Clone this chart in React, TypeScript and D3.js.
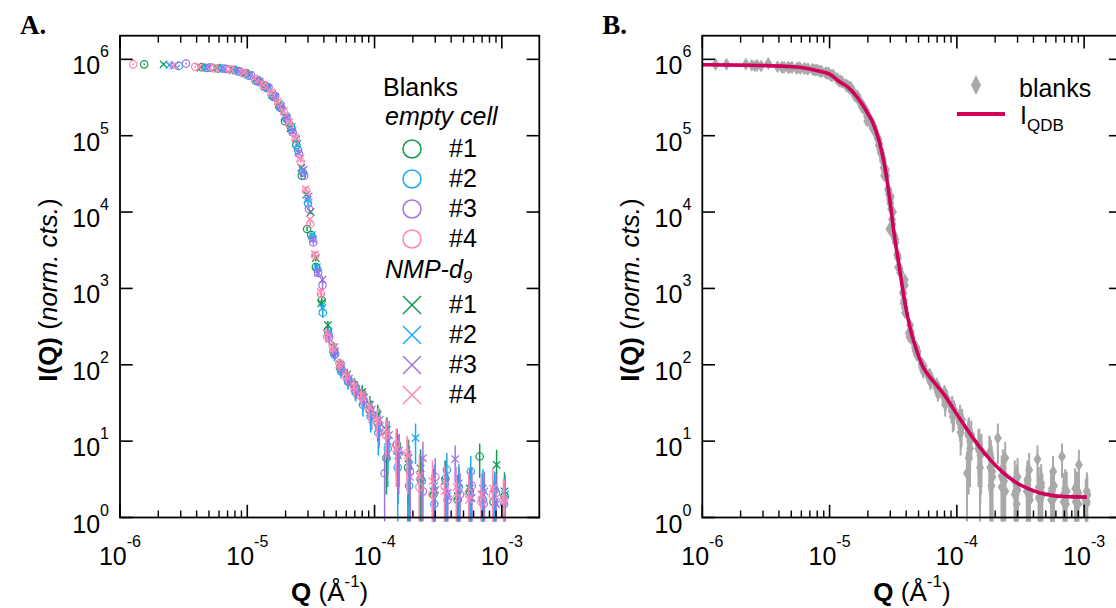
import React from "react";
import * as d3 from "d3";

// each point: [Q (1/Å), I(Q), dI]
type Pt = [number, number, number];

const emptyCell1: Pt[] = [
  [1.55e-6, 8.6e5, 2.5e4], [4.4e-6, 7.9e5, 2.2e4], [5.9e-6, 7.6e5, 2e4], [7.9e-6, 7.3e5, 2e4],
  [9.8e-6, 6.6e5, 1.8e4], [1.19e-5, 5.2e5, 1.5e4], [1.39e-5, 4.5e5, 1.3e4], [1.58e-5, 3.3e5, 1e4],
  [1.79e-5, 2.4e5, 8e3], [1.98e-5, 1.55e5, 6e3], [2.2e-5, 1.3e5, 5e3], [2.43e-5, 7.5e4, 3e3],
  [2.68e-5, 3.0e4, 1.5e3], [2.95e-5, 6.0e3, 400], [3.18e-5, 5.0e3, 350], [3.46e-5, 1.9e3, 200],
  [3.85e-5, 700, 90], [4.3e-5, 280, 40], [4.75e-5, 150, 25], [5.35e-5, 92, 16],
  [6.1e-5, 66, 13], [6.95e-5, 55, 12], [8.0e-5, 42, 10], [9.2e-5, 26, 8],
  [1.06e-4, 17, 7], [1.24e-4, 6, 4], [1.5e-4, 9, 5.5], [1.83e-4, 4.5, 3.8],
  [2.3e-4, 3.2, 2.8], [2.9e-4, 2.0, 1.9], [3.6e-4, 3.2, 2.4], [4.5e-4, 1.7, 1.6],
  [5.6e-4, 2.2, 1.8], [6.7e-4, 6.3, 3.0], [8.6e-4, 1.6, 1.4], [1.05e-3, 1.9, 1.5],
];

const emptyCell2: Pt[] = [
  [2.9e-6, 8.2e5, 2.4e4], [4.8e-6, 7.7e5, 2.2e4], [6.4e-6, 7.6e5, 2e4], [8.4e-6, 7.0e5, 2e4],
  [1.03e-5, 6.1e5, 1.8e4], [1.22e-5, 5.2e5, 1.5e4], [1.43e-5, 4.2e5, 1.2e4], [1.63e-5, 3.2e5, 1e4],
  [1.83e-5, 2.3e5, 8e3], [2.03e-5, 1.7e5, 6e3], [2.24e-5, 1.2e5, 5e3], [2.5e-5, 6.5e4, 3e3],
  [2.74e-5, 3.3e4, 1.6e3], [3.0e-5, 1.3e4, 800], [3.25e-5, 4.6e3, 330], [3.55e-5, 1.8e3, 180],
  [3.92e-5, 480, 70], [4.35e-5, 250, 40], [4.85e-5, 135, 24], [5.45e-5, 82, 16],
  [6.2e-5, 60, 13], [7.1e-5, 44, 11], [8.1e-5, 30, 9], [9.3e-5, 21, 8],
  [1.07e-4, 13, 6.5], [1.27e-4, 8, 5.5], [1.52e-4, 4.5, 4.2], [1.87e-4, 2.6, 2.6],
  [2.35e-4, 3.0, 2.9], [2.95e-4, 1.5, 1.5], [3.7e-4, 4.2, 2.8], [4.6e-4, 2.5, 2.0],
  [5.7e-4, 4.0, 2.4], [7.1e-4, 1.7, 1.6], [8.8e-4, 2.3, 1.7], [1.04e-3, 1.5, 1.4],
];

const emptyCell3: Pt[] = [
  [3.3e-6, 8.8e5, 2.5e4], [5.1e-6, 7.8e5, 2.2e4], [6.8e-6, 7.5e5, 2e4], [8.7e-6, 6.9e5, 2e4],
  [1.07e-5, 6.2e5, 1.8e4], [1.26e-5, 5.0e5, 1.5e4], [1.47e-5, 4.3e5, 1.2e4], [1.66e-5, 3.3e5, 1e4],
  [1.86e-5, 2.3e5, 8e3], [2.07e-5, 1.6e5, 6e3], [2.28e-5, 1.1e5, 5e3], [2.55e-5, 5.8e4, 3e3],
  [2.8e-5, 3.0e4, 1.5e3], [3.05e-5, 1.1e4, 700], [3.3e-5, 4.0e3, 300], [3.6e-5, 1.6e3, 170],
  [3.9e-5, 1.1e3, 120], [4.4e-5, 230, 35], [4.9e-5, 140, 24], [5.5e-5, 88, 16],
  [6.25e-5, 64, 13], [7.2e-5, 47, 11], [8.2e-5, 35, 9], [9.5e-5, 22, 8],
  [1.09e-4, 15, 6.5], [1.2e-4, 3.8, 3.5], [1.55e-4, 7, 5], [1.9e-4, 4, 3.5],
  [2.4e-4, 2.2, 2.1], [3.0e-4, 3.4, 2.6], [3.75e-4, 1.7, 1.6], [4.7e-4, 2.0, 1.8],
  [5.8e-4, 2.6, 2.0], [7.2e-4, 1.5, 1.5], [9.0e-4, 2.1, 1.7],
];

const emptyCell4: Pt[] = [
  [1.27e-6, 8.6e5, 2.5e4], [3.9e-6, 8.0e5, 2.3e4], [5.5e-6, 7.6e5, 2e4], [7.3e-6, 7.4e5, 2e4],
  [9.3e-6, 6.6e5, 1.8e4], [1.15e-5, 5.5e5, 1.5e4], [1.35e-5, 4.6e5, 1.3e4], [1.55e-5, 3.6e5, 1e4],
  [1.75e-5, 2.7e5, 8e3], [1.95e-5, 2.0e5, 6e3], [2.16e-5, 1.4e5, 5e3], [2.4e-5, 9.0e4, 3.5e3],
  [2.63e-5, 4.6e4, 2e3], [2.9e-5, 1.9e4, 1e3], [3.12e-5, 7.0e3, 450], [3.42e-5, 2.7e3, 250],
  [3.8e-5, 850, 100], [4.25e-5, 230, 35], [4.7e-5, 175, 28], [5.3e-5, 105, 18],
  [6.0e-5, 72, 14], [6.9e-5, 50, 12], [7.9e-5, 38, 10], [9.1e-5, 25, 8],
  [1.05e-4, 18, 7], [1.23e-4, 12, 6], [1.48e-4, 9, 5.5], [1.8e-4, 7, 4.8],
  [2.25e-4, 2.5, 2.4], [2.85e-4, 2.0, 1.9], [3.55e-4, 2.6, 2.1], [4.4e-4, 1.8, 1.7],
  [5.5e-4, 2.1, 1.8], [6.9e-4, 1.6, 1.5], [8.5e-4, 1.9, 1.6], [1.03e-3, 1.7, 1.5],
];

const nmp1: Pt[] = [
  [2.2e-6, 8.6e5, 2.5e4], [4.3e-6, 7.8e5, 2.2e4], [5.8e-6, 7.8e5, 2e4], [7.7e-6, 7.2e5, 2e4],
  [9.6e-6, 6.5e5, 1.8e4], [1.17e-5, 5.4e5, 1.5e4], [1.37e-5, 4.4e5, 1.3e4], [1.57e-5, 3.5e5, 1e4],
  [1.77e-5, 2.6e5, 8e3], [1.97e-5, 1.8e5, 6e3], [2.18e-5, 1.25e5, 5e3], [2.42e-5, 9.0e4, 3.5e3],
  [2.66e-5, 3.8e4, 1.8e3], [2.92e-5, 1.7e4, 900], [3.15e-5, 1.0e4, 600], [3.45e-5, 2.5e3, 240],
  [3.82e-5, 640, 80], [4.3e-5, 330, 45], [4.8e-5, 170, 28], [5.4e-5, 100, 18],
  [6.1e-5, 75, 14], [7.0e-5, 49, 12], [8.0e-5, 44, 10], [9.2e-5, 30, 9],
  [1.06e-4, 22, 8], [1.25e-4, 14, 6.5], [1.5e-4, 7.5, 5], [1.85e-4, 6.0, 4.4],
  [2.3e-4, 4.4, 3.4], [2.9e-4, 2.2, 2.1], [3.6e-4, 3.0, 2.5], [4.5e-4, 1.9, 1.7],
  [5.6e-4, 2.4, 1.9], [7.0e-4, 2.0, 1.7], [9.1e-4, 4.9, 2.8], [1.05e-3, 2.2, 1.7],
];

const nmp2: Pt[] = [
  [2.45e-6, 8.4e5, 2.5e4], [4.7e-6, 7.9e5, 2.2e4], [6.3e-6, 7.6e5, 2e4], [8.2e-6, 7.1e5, 2e4],
  [1.01e-5, 6.3e5, 1.8e4], [1.21e-5, 5.2e5, 1.5e4], [1.42e-5, 4.3e5, 1.2e4], [1.62e-5, 3.3e5, 1e4],
  [1.82e-5, 2.5e5, 8e3], [2.02e-5, 1.75e5, 6e3], [2.23e-5, 1.3e5, 5e3], [2.47e-5, 7.8e4, 3e3],
  [2.72e-5, 3.5e4, 1.7e3], [2.98e-5, 1.45e4, 850], [3.22e-5, 5.0e3, 350], [3.52e-5, 1.9e3, 190],
  [3.9e-5, 560, 75], [4.35e-5, 270, 40], [4.85e-5, 145, 25], [5.45e-5, 88, 16],
  [6.2e-5, 62, 13], [7.1e-5, 45, 11], [8.1e-5, 33, 9], [9.3e-5, 24, 8],
  [1.08e-4, 15, 7], [1.27e-4, 10, 6], [1.53e-4, 6.5, 5], [1.88e-4, 4.8, 3.9],
  [2.1e-4, 11, 6], [2.95e-4, 2.6, 2.3], [3.7e-4, 1.9, 1.8], [4.6e-4, 2.8, 2.2],
  [5.7e-4, 1.8, 1.7], [7.1e-4, 2.4, 1.9], [8.8e-4, 1.6, 1.5], [1.06e-3, 2.0, 1.6],
];

const nmp3: Pt[] = [
  [2.7e-6, 8.4e5, 2.5e4], [5.0e-6, 7.9e5, 2.2e4], [6.7e-6, 7.5e5, 2e4], [8.6e-6, 7.0e5, 2e4],
  [1.05e-5, 6.2e5, 1.8e4], [1.25e-5, 5.1e5, 1.5e4], [1.46e-5, 4.2e5, 1.2e4], [1.66e-5, 3.2e5, 1e4],
  [1.85e-5, 2.4e5, 8e3], [2.06e-5, 1.7e5, 6e3], [2.27e-5, 1.15e5, 5e3], [2.52e-5, 6.0e4, 3e3],
  [2.77e-5, 3.6e4, 1.7e3], [3.03e-5, 1.6e4, 900], [3.28e-5, 4.4e3, 320], [3.6e-5, 1.6e3, 170],
  [3.9e-5, 1.3e3, 140], [4.4e-5, 220, 35], [4.9e-5, 150, 25], [5.5e-5, 95, 17],
  [6.3e-5, 66, 13], [7.2e-5, 48, 11], [8.3e-5, 37, 9], [9.5e-5, 26, 8],
  [1.1e-4, 19, 7.5], [1.3e-4, 12, 6.5], [1.56e-4, 7.5, 5], [1.9e-4, 3.4, 3.2],
  [2.4e-4, 6.0, 3.8], [3.0e-4, 2.3, 2.2], [3.75e-4, 2.1, 1.9], [4.3e-4, 5.8, 3.0],
  [5.8e-4, 1.8, 1.7], [7.3e-4, 2.2, 1.8], [9.0e-4, 1.5, 1.5], [1.05e-3, 1.6, 1.5],
];

const nmp4: Pt[] = [
  [2.6e-6, 8.2e5, 2.4e4], [4.2e-6, 7.9e5, 2.2e4], [5.6e-6, 7.7e5, 2e4], [7.5e-6, 7.3e5, 2e4],
  [9.4e-6, 6.7e5, 1.8e4], [1.14e-5, 5.6e5, 1.5e4], [1.34e-5, 4.6e5, 1.3e4], [1.54e-5, 3.7e5, 1e4],
  [1.74e-5, 2.8e5, 8e3], [1.94e-5, 2.1e5, 6e3], [2.14e-5, 1.5e5, 5e3], [2.38e-5, 9.5e4, 3.5e3],
  [2.62e-5, 5.0e4, 2e3], [2.88e-5, 2.0e4, 1e3], [3.1e-5, 8.0e3, 500], [3.4e-5, 2.8e3, 260],
  [3.78e-5, 900, 100], [4.2e-5, 260, 40], [4.7e-5, 165, 27], [5.3e-5, 100, 18],
  [6.0e-5, 70, 14], [6.9e-5, 52, 12], [7.9e-5, 40, 10], [9.1e-5, 28, 9],
  [1.05e-4, 19, 7.5], [1.23e-4, 13, 6.5], [1.48e-4, 8, 5.5], [1.82e-4, 6.5, 4.5],
  [2.25e-4, 3.5, 3.0], [2.85e-4, 3.0, 2.6], [3.55e-4, 2.2, 2.0], [4.4e-4, 2.5, 2.1],
  [5.5e-4, 1.7, 1.6], [6.9e-4, 2.0, 1.8], [8.5e-4, 2.4, 2.0], [1.04e-3, 1.6, 1.5],
];

// I_QDB fit curve
const fitQ = [
  1e-6, 2e-6, 3e-6, 4.5e-6, 6e-6, 8e-6, 1e-5, 1.2e-5, 1.4e-5, 1.6e-5, 1.8e-5, 2.0e-5, 2.2e-5,
  2.45e-5, 2.7e-5, 2.95e-5, 3.2e-5, 3.5e-5, 3.85e-5, 4.3e-5, 4.8e-5, 5.4e-5, 6.1e-5, 7e-5, 8e-5,
  9.2e-5, 1.06e-4, 1.25e-4, 1.5e-4, 1.85e-4, 2.3e-4, 2.9e-4, 3.6e-4, 4.5e-4, 5.6e-4, 7e-4,
  8.6e-4, 1.05e-3,
];
const fitI = [
  8.5e5, 8.4e5, 8.3e5, 8.1e5, 7.8e5, 7.1e5, 6.4e5, 5.1e5, 4.3e5, 3.4e5, 2.6e5, 1.95e5, 1.45e5,
  8.5e4, 4.2e4, 1.6e4, 5.5e3, 2.1e3, 750, 300, 160, 95, 70, 53, 40,
  28, 19.5, 13, 8.5, 5.6, 3.9, 2.9, 2.4, 2.1, 1.95, 1.88, 1.86, 1.85,
];

const xTickExps = [-6, -5, -4, -3];
const yTickExps = [0, 1, 2, 3, 4, 5, 6];

const GREEN = "#0f9a4c";
const BLUE = "#1ea9f5";
const PURPLE = "#a072e2";
const PINK = "#ff86b4";
const GRAY = "#a9a9a9";
const CRIMSON = "#d1005a";

const seriesA = [
  { label: "#1", shape: "circle", color: GREEN, data: emptyCell1 },
  { label: "#1", shape: "cross", color: GREEN, data: nmp1 },
  { label: "#2", shape: "circle", color: BLUE, data: emptyCell2 },
  { label: "#2", shape: "cross", color: BLUE, data: nmp2 },
  { label: "#3", shape: "circle", color: PURPLE, data: emptyCell3 },
  { label: "#3", shape: "cross", color: PURPLE, data: nmp3 },
  { label: "#4", shape: "circle", color: PINK, data: emptyCell4 },
  { label: "#4", shape: "cross", color: PINK, data: nmp4 },
];

const FONT = "'Liberation Sans', Arial, sans-serif";
const W = 1116;
const H = 608;
const TOP = 35.7;
const BOTTOM = 517.5;
const PLOT_W = 419.3;

function Panel({ x0, letter, children }: { x0: number; letter: string; children: (x: any, y: any) => React.ReactNode }) {
  const x = d3.scaleLog().domain([1e-6, 1.97e-3]).range([x0, x0 + PLOT_W]);
  const y = d3.scaleLog().domain([1, 2.04e6]).range([BOTTOM, TOP]);
  const x1 = x0 + PLOT_W;
  const minor: number[] = [];
  xTickExps.forEach((e) => {
    for (let m = 2; m <= 9; m++) {
      const q = m * Math.pow(10, e);
      if (q < 1.97e-3) minor.push(q);
    }
  });
  const cx = (x0 + x1) / 2;
  return (
    <g>
      <text x={x0 - 100} y={34} fontFamily="'Liberation Serif', 'Times New Roman', serif" fontWeight="bold" fontSize={27}>
        {letter}
      </text>
      {children(x, y)}
      <rect x={x0} y={TOP} width={PLOT_W} height={BOTTOM - TOP} fill="none" stroke="#000" strokeWidth={1.8} />
      {minor.map((q) => (
        <g key={"m" + q} stroke="#000" strokeWidth={1.4}>
          <line x1={x(q)} x2={x(q)} y1={BOTTOM} y2={BOTTOM - 7} />
          <line x1={x(q)} x2={x(q)} y1={TOP} y2={TOP + 7} />
        </g>
      ))}
      {xTickExps.map((e) => {
        const px = x(Math.pow(10, e));
        return (
          <g key={"x" + e}>
            <line x1={px} x2={px} y1={BOTTOM} y2={BOTTOM - 12.7} stroke="#000" strokeWidth={1.6} />
            <line x1={px} x2={px} y1={TOP} y2={TOP + 12.7} stroke="#000" strokeWidth={1.6} />
            <text x={px} y={565} textAnchor="middle" fontFamily={FONT} fontSize={25}>
              10<tspan dy={-18} fontSize={16}>{String(e)}</tspan>
            </text>
          </g>
        );
      })}
      {yTickExps.map((e) => {
        const py = y(Math.pow(10, e));
        return (
          <g key={"y" + e}>
            <line x1={x0} x2={x0 + 12.7} y1={py} y2={py} stroke="#000" strokeWidth={1.6} />
            <line x1={x1} x2={x1 - 12.7} y1={py} y2={py} stroke="#000" strokeWidth={1.6} />
            <text x={x0 - 11} y={py + 15} textAnchor="end" fontFamily={FONT} fontSize={25}>
              10<tspan dy={-17} fontSize={16}>{String(e)}</tspan>
            </text>
          </g>
        );
      })}
      <text transform={`translate(${x0 - 63},290) rotate(-90)`} textAnchor="middle" fontFamily={FONT} fontSize={26}>
        <tspan fontWeight="bold">I(Q)</tspan>
        <tspan> (</tspan>
        <tspan fontStyle="italic">norm. cts.</tspan>
        <tspan>)</tspan>
      </text>
      <text x={cx} y={601} textAnchor="middle" fontFamily={FONT} fontSize={26}>
        <tspan fontWeight="bold">Q</tspan>
        <tspan> (Å</tspan>
        <tspan dy={-14} fontSize={17}>-1</tspan>
        <tspan dy={14}>)</tspan>
      </text>
    </g>
  );
}

function errBar(x: any, y: any, d: Pt) {
  const lo = d[1] - d[2] > 0 ? Math.min(y(d[1] - d[2]), BOTTOM + 4) : BOTTOM + 4;
  const hi = Math.max(y(d[1] + d[2]), TOP);
  return { x: x(d[0]), lo, hi };
}

const crossPath = (s: number) => `M${-s},${-s}L${s},${s}M${-s},${s}L${s},${-s}`;
const diamondPath = (w: number, h: number) => `M0,${-h}L${w},0L0,${h}L${-w},0Z`;

export default function App() {
  const allBlanks: Pt[] = seriesA.flatMap((s) => s.data);
  return (
    <svg width={W} height={H} style={{ position: "absolute", left: 0, top: 0, background: "#fff" }}>
      <rect width={W} height={H} fill="#fff" />
      <Panel x0={120} letter="A.">
        {(x, y) => (
          <g>
            {seriesA.map((s, si) => (
              <g key={si} stroke={s.color} fill="none">
                {s.data.map((d, i) => {
                  const b = errBar(x, y, d);
                  const py = y(d[1]);
                  return (
                    <g key={i}>
                      <line x1={b.x} x2={b.x} y1={b.lo} y2={b.hi} strokeWidth={1.5} />
                      {s.shape === "circle" ? (
                        <circle cx={b.x} cy={py} r={3.7} strokeWidth={1.2} />
                      ) : (
                        <path d={crossPath(3.7)} transform={`translate(${b.x},${py})`} strokeWidth={1.3} />
                      )}
                    </g>
                  );
                })}
              </g>
            ))}
            <g fontFamily={FONT} fontSize={25}>
              <text x={383} y={96}>Blanks</text>
              <text x={385} y={125} fontStyle="italic">empty cell</text>
              {seriesA
                .filter((s) => s.shape === "circle")
                .map((s, i) => (
                  <g key={"lc" + i}>
                    <circle cx={412} cy={149 + i * 30} r={9} fill="none" stroke={s.color} strokeWidth={1.5} />
                    <text x={449} y={157 + i * 30}>{s.label}</text>
                  </g>
                ))}
              <text x={385} y={278} fontStyle="italic">
                NMP-d<tspan dy={5} fontSize={17}>9</tspan>
              </text>
              {seriesA
                .filter((s) => s.shape === "cross")
                .map((s, i) => (
                  <g key={"lx" + i}>
                    <path d={crossPath(9)} transform={`translate(412,${305 + i * 30})`} stroke={s.color} strokeWidth={1.5} />
                    <text x={449} y={313 + i * 30}>{s.label}</text>
                  </g>
                ))}
            </g>
          </g>
        )}
      </Panel>
      <Panel x0={702.3} letter="B.">
        {(x, y) => {
          const line = d3
            .line<number>()
            .x((q) => x(q))
            .y((_, i) => y(fitI[i]))
            .curve(d3.curveMonotoneX);
          return (
            <g>
              <g stroke={GRAY} fill={GRAY}>
                {allBlanks.map((d, i) => {
                  const b = errBar(x, y, d);
                  return (
                    <g key={i}>
                      <line x1={b.x} x2={b.x} y1={b.lo} y2={b.hi} strokeWidth={2} />
                      <path d={diamondPath(4, 6.5)} transform={`translate(${b.x},${y(d[1])})`} stroke="none" />
                    </g>
                  );
                })}
              </g>
              <path d={line(fitQ) || ""} fill="none" stroke={CRIMSON} strokeWidth={3.6} />
              <g fontFamily={FONT} fontSize={25}>
                <path d={diamondPath(5, 10)} transform="translate(976,85)" fill={GRAY} />
                <text x={1019} y={97}>blanks</text>
                <line x1={957} x2={1005} y1={114} y2={114} stroke={CRIMSON} strokeWidth={4} />
                <text x={1020} y={124}>
                  I<tspan dy={7} fontSize={17}>QDB</tspan>
                </text>
              </g>
            </g>
          );
        }}
      </Panel>
    </svg>
  );
}
